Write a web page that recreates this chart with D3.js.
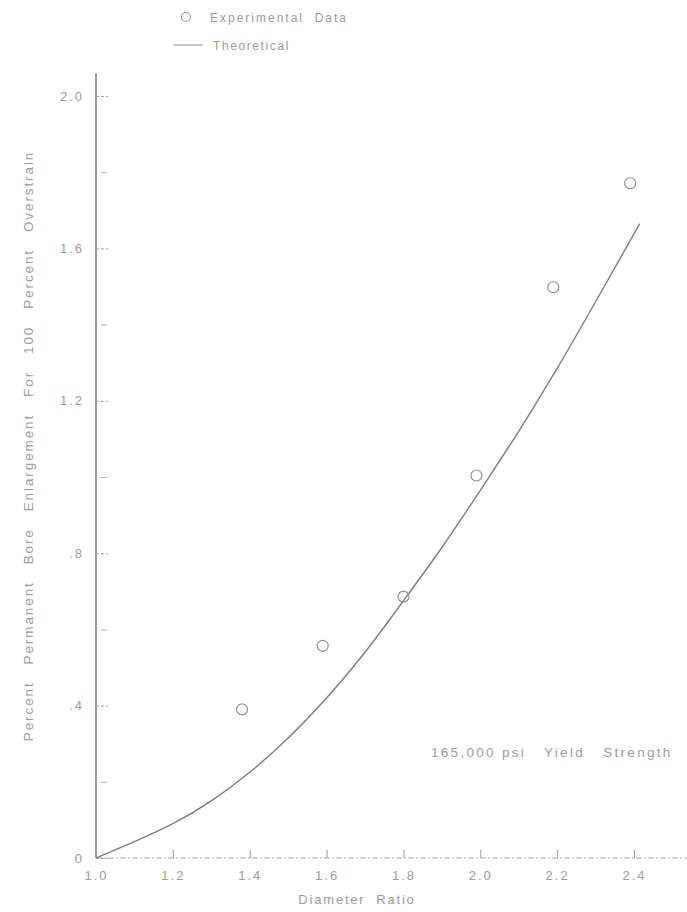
<!DOCTYPE html>
<html>
<head>
<meta charset="utf-8">
<script src="https://cdn.jsdelivr.net/npm/d3@7"></script>
<style>
  body { margin: 0; background: #fff; }
  text { font-family: "Liberation Sans", Arial, sans-serif; fill: #9a9a9a; white-space: pre; }
</style>
</head>
<body>
<div id="chart"></div>
<script>
'use strict';

// experimental points
const expRatio = [1.38, 1.59, 1.80, 1.99, 2.19, 2.39];
const expEnlarge = [0.39, 0.557, 0.686, 1.004, 1.498, 1.771];

// theoretical curve
const theoRatio = [1.0, 1.1, 1.2, 1.3, 1.4, 1.5, 1.6, 1.7, 1.8, 1.9, 2.0, 2.1, 2.2, 2.3, 2.415];
const theoEnlarge = [0, 0.043, 0.09, 0.15, 0.225, 0.315, 0.42, 0.54, 0.675, 0.815, 0.965, 1.12, 1.285, 1.46, 1.665];

const xTicks = [1.0, 1.2, 1.4, 1.6, 1.8, 2.0, 2.2, 2.4];
const xTickLabels = ["1.0", "1.2", "1.4", "1.6", "1.8", "2.0", "2.2", "2.4"];
const yTicks = [0, 0.4, 0.8, 1.2, 1.6, 2.0];
const yTickLabels = ["0", ".4", ".8", "1.2", "1.6", "2.0"];
const yMinorTicks = [0.2, 0.6, 1.0, 1.4, 1.8];

const width = 687, height = 912;

const svg = d3.select("#chart")
    .append("svg")
    .attr("width", width)
    .attr("height", height);

const x = d3.scaleLinear().domain([1.0, 2.4]).range([96, 634]);
const y = d3.scaleLinear().domain([0, 2.0]).range([858, 96]);

// y axis: solid vertical line, ticks pointing inward
svg.append("line")
    .attr("x1", x(1.0)).attr("x2", x(1.0))
    .attr("y1", y(0)).attr("y2", y(2.06))
    .attr("stroke", "#6e6e6e")
    .attr("stroke-width", 1.4);

const yAxis = svg.append("g")
    .attr("transform", "translate(" + x(1.0) + ",0)")
    .call(d3.axisLeft(y)
        .tickValues(yTicks)
        .tickFormat((d, i) => yTickLabels[i])
        .tickSizeInner(-12)
        .tickSizeOuter(0)
        .tickPadding(12));
yAxis.select(".domain").remove();
yAxis.selectAll(".tick line")
    .attr("stroke", "#a0a0a0")
    .attr("stroke-dasharray", "3,2");
yAxis.selectAll(".tick text")
    .style("font-size", "13px")
    .style("letter-spacing", "2px")
    .attr("fill", "#a3a3a3");

const yMinor = svg.append("g")
    .attr("transform", "translate(" + (x(1.0) + 5) + ",0)")
    .call(d3.axisLeft(y)
        .tickValues(yMinorTicks)
        .tickFormat("")
        .tickSizeInner(-6)
        .tickSizeOuter(0));
yMinor.select(".domain").remove();
yMinor.selectAll(".tick line").attr("stroke", "#b0b0b0");

// x axis: faint dashed baseline, ticks pointing up
svg.append("line")
    .attr("x1", x(1.0)).attr("x2", x(2.56))
    .attr("y1", y(0)).attr("y2", y(0))
    .attr("stroke", "#a8a8a8")
    .attr("stroke-width", 1)
    .attr("stroke-dasharray", "6,2,2,2");

const xAxis = svg.append("g")
    .attr("transform", "translate(0," + y(0) + ")")
    .call(d3.axisBottom(x)
        .tickValues(xTicks)
        .tickFormat((d, i) => xTickLabels[i])
        .tickSizeInner(-8)
        .tickSizeOuter(0)
        .tickPadding(13));
xAxis.select(".domain").remove();
xAxis.selectAll(".tick line").attr("stroke", "#9a9a9a");
xAxis.selectAll(".tick text")
    .style("font-size", "13px")
    .style("letter-spacing", "2px")
    .attr("fill", "#a3a3a3");

// theoretical curve
const line = d3.line()
    .x(d => x(d[0]))
    .y(d => y(d[1]))
    .curve(d3.curveNatural);

svg.append("path")
    .datum(d3.zip(theoRatio, theoEnlarge))
    .attr("d", line)
    .attr("fill", "none")
    .attr("stroke", "#7c7c7c")
    .attr("stroke-width", 1.4);

// experimental data
svg.selectAll(".markers")
    .data(d3.zip(expRatio, expEnlarge))
    .enter()
    .append("circle")
    .attr("class", "markers")
    .attr("cx", d => x(d[0]))
    .attr("cy", d => y(d[1]))
    .attr("r", 5.5)
    .attr("fill", "none")
    .attr("stroke", "#8e8e8e")
    .attr("stroke-width", 1.2);

// axis titles
svg.append("text")
    .attr("transform", "translate(33," + 446 + ") rotate(-90)")
    .attr("text-anchor", "middle")
    .style("font-size", "13.5px")
    .style("letter-spacing", "1.9px")
    .attr("fill", "#a8a8a8")
    .text("Percent   Permanent   Bore   Enlargement   For   100   Percent   Overstrain");

svg.append("text")
    .attr("x", 357)
    .attr("y", 904)
    .attr("text-anchor", "middle")
    .style("font-size", "13px")
    .style("letter-spacing", "1.8px")
    .attr("fill", "#a0a0a0")
    .text("Diameter  Ratio");

// note
svg.append("text")
    .attr("x", 431)
    .attr("y", 757)
    .style("font-size", "13.5px")
    .style("letter-spacing", "2.3px")
    .attr("fill", "#a0a0a0")
    .text("165,000 psi   Yield   Strength");

// legend
svg.append("circle")
    .attr("cx", 186).attr("cy", 17).attr("r", 4.5)
    .attr("fill", "none")
    .attr("stroke", "#9a9a9a")
    .attr("stroke-width", 1.2);
svg.append("text")
    .attr("x", 210).attr("y", 22)
    .style("font-size", "12px")
    .style("letter-spacing", "2px")
    .attr("fill", "#b4b4b4")
    .text("Experimental  Data");

svg.append("line")
    .attr("x1", 173).attr("x2", 203)
    .attr("y1", 45).attr("y2", 45)
    .attr("stroke", "#a0a0a0")
    .attr("stroke-width", 1.2);
svg.append("text")
    .attr("x", 213).attr("y", 50)
    .style("font-size", "12px")
    .style("letter-spacing", "1.6px")
    .attr("fill", "#b4b4b4")
    .text("Theoretical");
</script>
</body>
</html>
